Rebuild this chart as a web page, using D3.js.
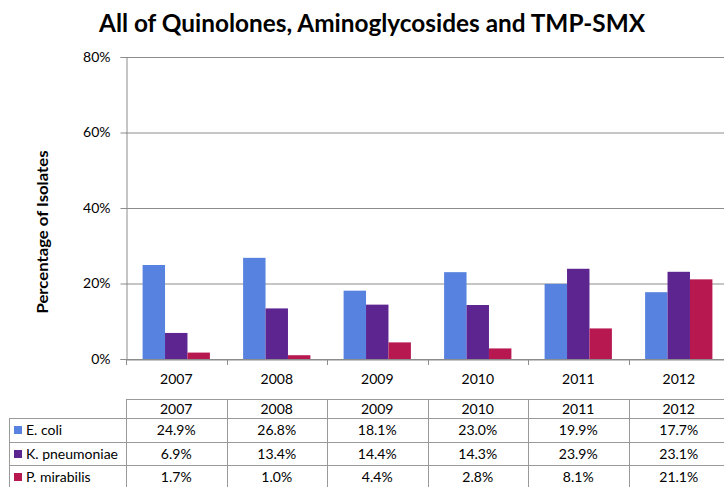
<!DOCTYPE html>
<html>
<head>
<meta charset="utf-8">
<script src="https://cdn.jsdelivr.net/npm/d3@7"></script>
<style>
  html, body { margin: 0; padding: 0; background: #fff; }
  svg { display: block; }
</style>
</head>
<body>
<svg id="chart" width="724" height="487"></svg>
<script>
const years = ["2007", "2008", "2009", "2010", "2011", "2012"];
const seriesNames = ["E. coli", "K. pneumoniae", "P. mirabilis"];
const ecoli = [24.9, 26.8, 18.1, 23.0, 19.9, 17.7];
const kpneumoniae = [6.9, 13.4, 14.4, 14.3, 23.9, 23.1];
const pmirabilis = [1.7, 1.0, 4.4, 2.8, 8.1, 21.1];
const seriesColors = ["#5882E0", "#5C2590", "#B81850"];
const yTicks = [0, 20, 40, 60, 80];

const series = [ecoli, kpneumoniae, pmirabilis].map((vals, i) => ({
  name: seriesNames[i], color: seriesColors[i], values: vals
}));

const svg = d3.select("#chart");
const font = "Lato, 'Open Sans', sans-serif";
const textSize = "14px";

const plotLeft = 126, plotRight = 729, plotTop = 57, plotBottom = 359;

const x = d3.scaleBand().domain(years).range([plotLeft, plotRight]);
const xInner = d3.scaleBand().domain(seriesNames).range([0, x.bandwidth()]).paddingOuter(0.74).paddingInner(0);
const y = d3.scaleLinear().domain([0, 80]).range([plotBottom, plotTop]);

// Title
svg.append("text")
  .attr("x", 372).attr("y", 32)
  .attr("text-anchor", "middle")
  .attr("textLength", 546).attr("lengthAdjust", "spacingAndGlyphs")
  .style("font-family", font).style("font-weight", "bold").style("font-size", "24px")
  .text("All of Quinolones, Aminoglycosides and TMP-SMX");

// Gridlines
svg.append("g").selectAll("line").data(yTicks).join("line")
  .attr("x1", plotLeft).attr("x2", plotRight)
  .attr("y1", d => y(d) + 0.5).attr("y2", d => y(d) + 0.5)
  .attr("stroke", "#8c8c8c").attr("stroke-width", 1);

// Y axis
const yAxis = svg.append("g")
  .attr("transform", `translate(${plotLeft + 0.5},0)`)
  .call(d3.axisLeft(y).tickValues(yTicks).tickSize(6).tickPadding(10).tickFormat(d => d + "%"));
yAxis.select(".domain").attr("stroke", "#8c8c8c");
yAxis.selectAll(".tick line").attr("stroke", "#8c8c8c");
yAxis.selectAll("text").style("font-family", font).style("font-size", textSize).attr("fill", "#000");

// Y axis title
svg.append("text")
  .attr("transform", "translate(48,232) rotate(-90)")
  .attr("text-anchor", "middle")
  .attr("textLength", 163).attr("lengthAdjust", "spacingAndGlyphs")
  .style("font-family", font).style("font-weight", "bold").style("font-size", "15px")
  .text("Percentage of Isolates");

// Bars
const groups = svg.append("g").selectAll("g").data(years).join("g")
  .attr("transform", d => `translate(${x(d)},0)`);
groups.selectAll("rect")
  .data((d, i) => series.map(s => ({ name: s.name, color: s.color, value: s.values[i] })))
  .join("rect")
  .attr("x", d => xInner(d.name))
  .attr("width", xInner.bandwidth())
  .attr("y", d => y(d.value))
  .attr("height", d => y(0) - y(d.value))
  .attr("fill", d => d.color);

// X axis
const xAxis = svg.append("g")
  .attr("transform", `translate(0,${plotBottom + 0.5})`)
  .call(d3.axisBottom(x).tickSize(0).tickPadding(15));
xAxis.select(".domain").attr("stroke", "#8c8c8c");
xAxis.selectAll("text").style("font-family", font).style("font-size", textSize).attr("fill", "#000");
svg.append("g").selectAll("line").data(years.concat(["end"])).join("line")
  .attr("x1", (d, i) => Math.round(plotLeft + i * x.step()) + 0.5)
  .attr("x2", (d, i) => Math.round(plotLeft + i * x.step()) + 0.5)
  .attr("y1", plotBottom).attr("y2", plotBottom + 6)
  .attr("stroke", "#8c8c8c");

// Data table
const tableTop = 399, rowH = [19, 24, 23, 23];
const rowY = [tableTop];
rowH.forEach((h, i) => rowY.push(rowY[i] + h));
const labelLeft = 9;
const tbl = svg.append("g");
const border = "#9a9a9a";

// horizontal lines
rowY.forEach((yy, i) => {
  tbl.append("line")
    .attr("x1", i === 0 ? plotLeft : labelLeft).attr("x2", plotRight)
    .attr("y1", yy + 0.5).attr("y2", yy + 0.5)
    .attr("stroke", border);
});
// vertical lines
tbl.append("line").attr("x1", labelLeft + 0.5).attr("x2", labelLeft + 0.5)
  .attr("y1", rowY[1]).attr("y2", rowY[4]).attr("stroke", border);
years.concat(["end"]).forEach((d, i) => {
  const xx = Math.round(plotLeft + i * x.step()) + 0.5;
  tbl.append("line").attr("x1", xx).attr("x2", xx)
    .attr("y1", rowY[0]).attr("y2", rowY[4]).attr("stroke", border);
});

// header row
tbl.selectAll("text.hdr").data(years).join("text")
  .attr("class", "hdr")
  .attr("x", d => x(d) + x.bandwidth() / 2)
  .attr("y", rowY[0] + 15)
  .attr("text-anchor", "middle")
  .style("font-family", font).style("font-size", textSize)
  .text(d => d);

// series rows
series.forEach((s, r) => {
  const yy = rowY[r + 1];
  tbl.append("rect")
    .attr("x", 14).attr("y", yy + 8).attr("width", 8).attr("height", 8)
    .attr("fill", s.color);
  tbl.append("text")
    .attr("x", 26).attr("y", yy + 17)
    .style("font-family", font).style("font-size", textSize)
    .text(s.name);
  tbl.selectAll(null).data(s.values).join("text")
    .attr("x", (d, i) => x(years[i]) + x.bandwidth() / 2)
    .attr("y", yy + 17)
    .attr("text-anchor", "middle")
    .style("font-family", font).style("font-size", textSize)
    .text(d => d.toFixed(1) + "%");
});
</script>
</body>
</html>
